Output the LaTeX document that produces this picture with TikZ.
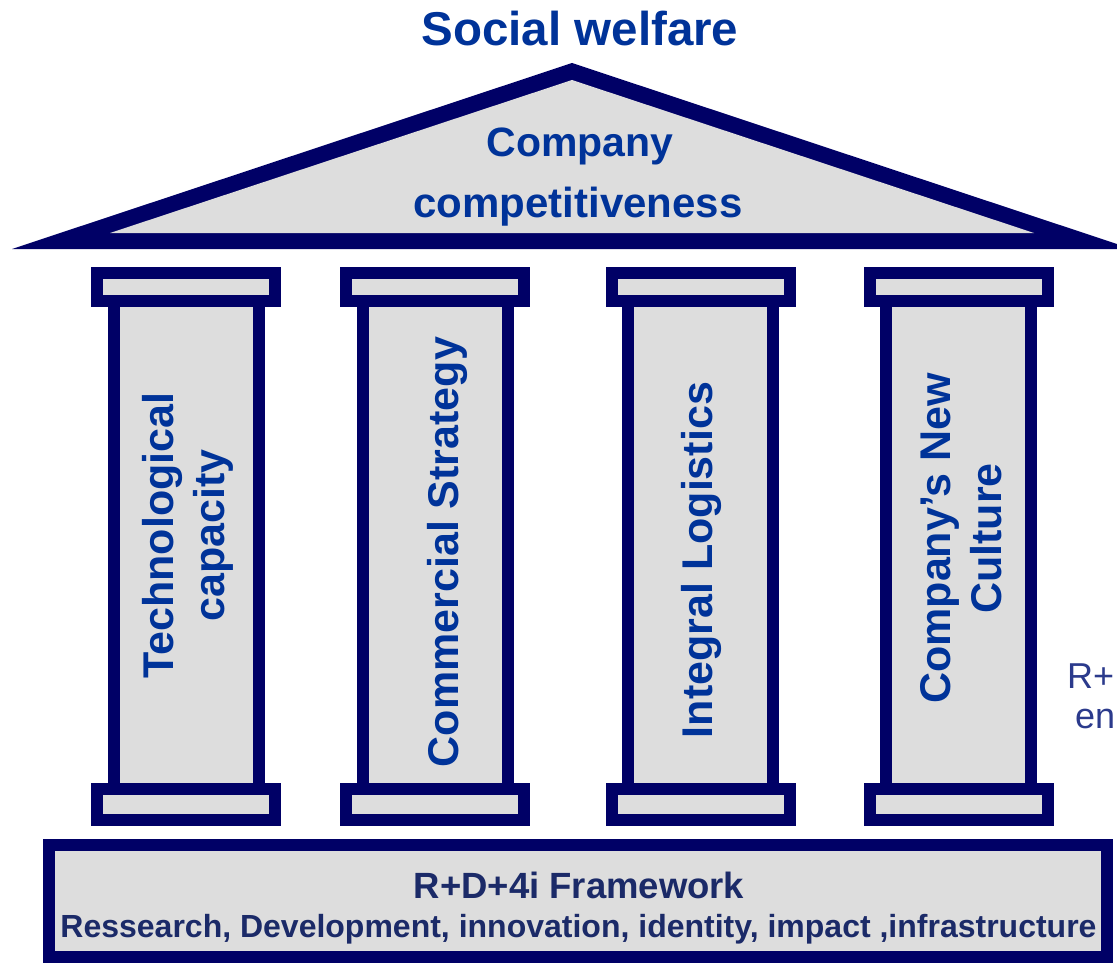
\documentclass[tikz,border=0pt]{standalone}
\usepackage{fontspec}
\setmainfont{Liberation Sans}
\definecolor{navy}{HTML}{000066}
\definecolor{stone}{HTML}{DDDDDD}
\definecolor{royal}{HTML}{003399}
\definecolor{ink}{HTML}{1B2A68}
\definecolor{side}{HTML}{2B3A8C}

\begin{document}
\begin{tikzpicture}[x=1pt,y=-1pt,
  block/.style={rectangle, draw=navy, fill=stone, line width=12pt, inner sep=0pt},
  capital/.style={block, minimum width=178pt, minimum height=28pt},
  plinth/.style={block, minimum width=178pt, minimum height=31pt},
  shaft/.style={block, minimum width=145pt, minimum height=490pt},
  colname/.style={text=royal, font=\fontsize{43}{51}\selectfont\bfseries, align=center, rotate=90, inner sep=0pt},
  heading/.style={anchor=base, text=royal, inner sep=0pt},
  basetext/.style={anchor=base, text=ink, inner sep=0pt},
]
\useasboundingbox (0,0) rectangle (1117,963);
\clip (0,0) rectangle (1117,963);

% pediment
\fill[navy] (12,249) -- (572,63) -- (1132,249) -- cycle;
\fill[stone] (110,233) -- (572,80) -- (1034,233) -- cycle;

\node[heading, font=\fontsize{47.5}{56}\selectfont\bfseries] (title) at (580,46) {Social welfare};
\node[heading, font=\fontsize{41}{49}\selectfont\bfseries] (roof1) at (580,157) {Company};
\node[heading, font=\fontsize{42}{49}\selectfont\bfseries] (roof2) at (578,217) {competitiveness};

% columns: shaft, capital and foot
\foreach \i/\cx in {1/186, 2/435, 3/700.5, 4/958.5} {
  \node[shaft] (shaft\i) at (\cx,545) {};
  \node[capital] (top\i) at (\cx,286.5) {};
  \node[plinth] (foot\i) at (\cx,804.5) {};
}

\node[colname] (lab1) at (187.5,535.5) {Technological\\capacity};
\node[colname] (lab2) at (447,552) {Commercial Strategy};
\node[colname] (lab3) at (701,560) {Integral Logistics};
\node[colname] (lab4) at (961.5,538.5) {Company’s New\\Culture};

% foundation
\node[block, minimum width=1058pt, minimum height=112pt] (base) at (578,901) {};
\node[basetext, font=\fontsize{36.5}{44}\selectfont\bfseries] (fw) at (579,898) {R+D+4i Framework};
\node[basetext, font=\fontsize{32}{38}\selectfont\bfseries] (fwlist) at (578.5,937) {Ressearch, Development, innovation, identity, impact ,infrastructure};

% text at the right margin
\node[anchor=base west, text=side, font=\fontsize{36}{43}\selectfont, inner sep=0pt] (side1) at (1067,688) {R+};
\node[anchor=base west, text=side, font=\fontsize{36}{43}\selectfont, inner sep=0pt] (side2) at (1075,728) {en};
\end{tikzpicture}
\end{document}
